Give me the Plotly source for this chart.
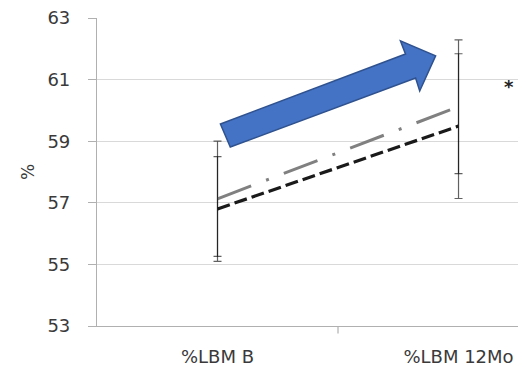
import plotly.graph_objects as go

categories = ["%LBM B", "%LBM 12Mo"]
cat_pos = [0, 1]
gray_values = [57.13, 60.12]
gray_errors = [1.87, 2.17]
black_values = [56.80, 59.49]
black_errors = [1.70, 2.35]
y_ticks = [53, 55, 57, 59, 61, 63]

# block arrow outline in data units (category index, %)
arrow_x = [0.012, 0.780, 0.759, 0.905, 0.839, 0.822, 0.053]
arrow_y = [59.56, 61.83, 62.26, 61.77, 60.63, 61.05, 58.81]

FONT = "DejaVu Sans"
TXT = "#3a3a3a"

fig = go.Figure()

err_col = "rgba(0,0,0,0.62)"
fig.add_trace(go.Scatter(
    x=cat_pos, y=gray_values, mode="lines",
    line=dict(color="#808080", width=3, dash="36px,16px,3px,16px"),
    error_y=dict(type="data", array=gray_errors, visible=True,
                 color=err_col, thickness=1.2, width=4),
    hoverinfo="skip", showlegend=False))
fig.add_trace(go.Scatter(
    x=cat_pos, y=black_values, mode="lines",
    line=dict(color="#1a1a1a", width=3.2, dash="13px,5px"),
    error_y=dict(type="data", array=black_errors, visible=True,
                 color=err_col, thickness=1.2, width=4),
    hoverinfo="skip", showlegend=False))

path = "M " + " L ".join(f"{x},{y}" for x, y in zip(arrow_x, arrow_y)) + " Z"
fig.add_shape(type="path", path=path, xref="x", yref="y",
              fillcolor="#4472C4", line=dict(color="#2F528F", width=1.5),
              layer="above")

# category divider tick
fig.add_shape(type="line", xref="x", yref="paper", x0=0.5, x1=0.5,
              y0=0, y1=-0.024, line=dict(color="#b0b0b0", width=1.2))

fig.add_annotation(x=1.208, y=60.76, xref="x", yref="y", text="<b>*</b>",
                   showarrow=False, font=dict(family=FONT, size=18, color="#222"))
fig.add_annotation(x=-0.189, y=0.5, xref="paper", yref="paper", text="%",
                   textangle=-90, showarrow=False,
                   font=dict(family=FONT, size=17, color=TXT))

# page body has an 8px margin, so the figure is sized to fit the window
fig.update_layout(
    width=518, height=359,
    margin=dict(l=89, r=0, t=10, b=41, autoexpand=False),
    plot_bgcolor="white", paper_bgcolor="white",
    font=dict(family=FONT, size=18, color=TXT),
    xaxis=dict(range=[-0.5, 1.28], tickvals=cat_pos, ticktext=categories,
               showgrid=False, zeroline=False, showline=True,
               linecolor="#b0b0b0", linewidth=1.2, ticks="",
               ticklabelstandoff=14, automargin=False, fixedrange=True,
               ticklabeloverflow="allow"),
    yaxis=dict(range=[53, 63], tickvals=y_ticks, showgrid=True,
               gridcolor="#d9d9d9", gridwidth=1, zeroline=False,
               showline=True, linecolor="#b0b0b0", linewidth=1.2,
               ticks="outside", ticklen=8, tickcolor="#b0b0b0",
               ticklabelstandoff=14, automargin=False, fixedrange=True,
               ticklabeloverflow="allow"),
)

fig.write_html("out.html")
